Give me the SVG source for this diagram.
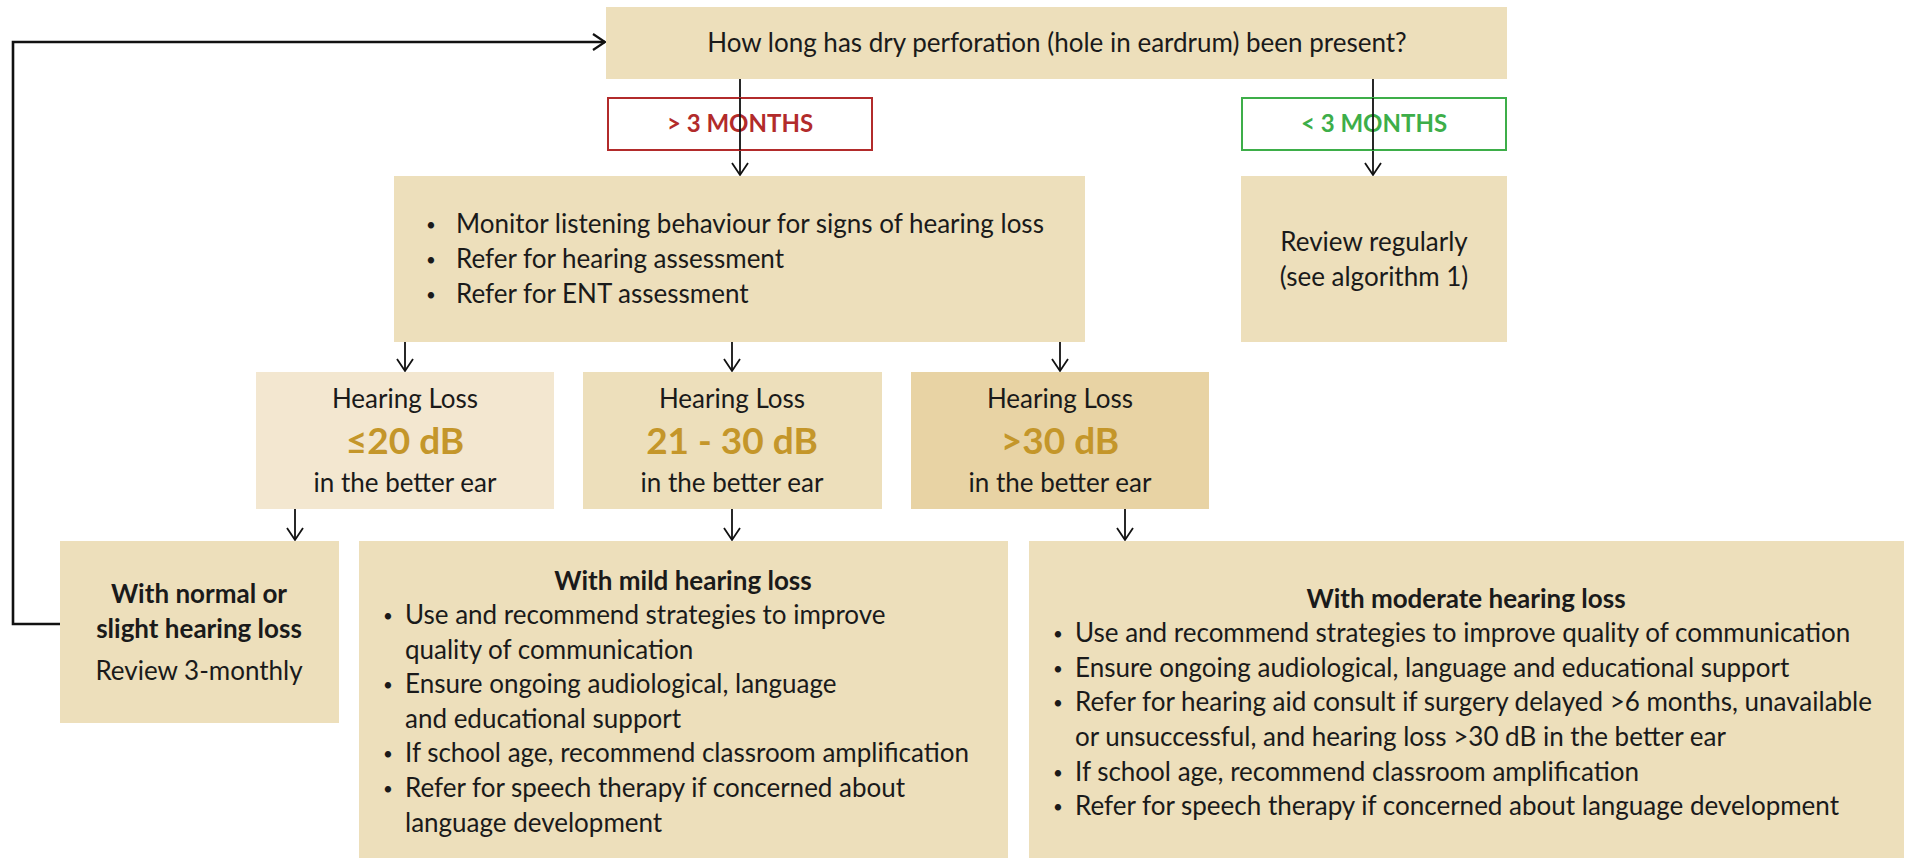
<svg xmlns="http://www.w3.org/2000/svg" width="1910" height="858" viewBox="0 0 1910 858">
  <style>
    text { font-family: Lato, "Liberation Sans", sans-serif; fill: #1a1a1a; font-size: 26px; }
    .c { text-anchor: middle; }
    .b { font-weight: bold; }
    .dot { font-size: 17px; text-anchor: middle; }
    .db { font-weight: bold; font-size: 37px; fill: #C4962A; }
    .lab { font-weight: bold; font-size: 24px; text-anchor: middle; }
    .box { fill: #EDDFBB; }
    .conn { stroke: #111; stroke-width: 1.8; fill: none; marker-end: url(#arr); }
    .loop { stroke: #111; stroke-width: 2.6; fill: none; marker-end: url(#arrL); }
  </style>
  <defs>
    <marker id="arr" markerUnits="userSpaceOnUse" viewBox="-14 -10 16 20" refX="0" refY="0" markerWidth="16" markerHeight="20" orient="auto" overflow="visible">
      <path d="M-12,-8 L0,0 L-12,8" fill="none" stroke="#111" stroke-width="1.8"/>
    </marker>
    <marker id="arrL" markerUnits="userSpaceOnUse" viewBox="-14 -10 16 20" refX="0" refY="0" markerWidth="16" markerHeight="20" orient="auto" overflow="visible">
      <path d="M-12,-8 L0,0 L-12,8" fill="none" stroke="#111" stroke-width="2.2"/>
    </marker>
  </defs>

  <rect width="1910" height="858" fill="#fff"/>

  <!-- connectors -->
  <g id="connectors">
    <path class="conn" d="M740,79 V175"/>
    <path class="conn" d="M1373,79 V175"/>
    <path class="conn" d="M405,342 V371"/>
    <path class="conn" d="M732,342 V371"/>
    <path class="conn" d="M1060,342 V371"/>
    <path class="conn" d="M295,509 V540"/>
    <path class="conn" d="M732,509 V540"/>
    <path class="conn" d="M1125,509 V540"/>
    <path class="loop" d="M60,624 H13 V42 H605"/>
  </g>

  <!-- question -->
  <g id="question">
    <rect class="box" x="606" y="7" width="901" height="72"/>
    <text class="c" x="1057" y="52">How long has dry perforation (hole in eardrum) been present?</text>
  </g>

  <!-- duration labels -->
  <g id="label-over">
    <rect x="608" y="98" width="264" height="52" fill="#fff" stroke="#B22B2B" stroke-width="2"/>
    <text class="lab" x="740" y="132" style="fill:#B22B2B">&gt; 3 MONTHS</text>
  </g>
  <g id="label-under">
    <rect x="1242" y="98" width="264" height="52" fill="#fff" stroke="#3DAE49" stroke-width="2"/>
    <text class="lab" x="1374" y="132" style="fill:#3DAE49">&lt; 3 MONTHS</text>
  </g>
  <!-- connector lines pass through the labels -->
  <path d="M740,98 V150 M1373,98 V150" stroke="#111" stroke-width="1.8"/>

  <!-- actions for long-standing perforation -->
  <g id="monitor">
    <rect class="box" x="394" y="176" width="691" height="166"/>
    <text class="dot" x="431" y="231">•</text><text x="456" y="233">Monitor listening behaviour for signs of hearing loss</text>
    <text class="dot" x="431" y="266">•</text><text x="456" y="268">Refer for hearing assessment</text>
    <text class="dot" x="431" y="301">•</text><text x="456" y="303">Refer for ENT assessment</text>
  </g>

  <g id="review-regularly">
    <rect class="box" x="1241" y="176" width="266" height="166"/>
    <text class="c" x="1374" y="251">Review regularly</text>
    <text class="c" x="1374" y="286">(see algorithm 1)</text>
  </g>

  <!-- hearing loss bands -->
  <g id="hl-20">
    <rect x="256" y="372" width="298" height="137" fill="#F3E7D0"/>
    <text class="c" x="405" y="408">Hearing Loss</text>
    <text class="c db" x="405" y="454">≤20 dB</text>
    <text class="c" x="405" y="492">in the better ear</text>
  </g>
  <g id="hl-21-30">
    <rect class="box" x="583" y="372" width="299" height="137"/>
    <text class="c" x="732" y="408">Hearing Loss</text>
    <text class="c db" x="732" y="454">21 - 30 dB</text>
    <text class="c" x="732" y="492">in the better ear</text>
  </g>
  <g id="hl-30">
    <rect x="911" y="372" width="298" height="137" fill="#E8D3A4"/>
    <text class="c" x="1060" y="408">Hearing Loss</text>
    <text class="c db" x="1060" y="454">&gt;30 dB</text>
    <text class="c" x="1060" y="492">in the better ear</text>
  </g>

  <!-- management -->
  <g id="normal">
    <rect class="box" x="60" y="541" width="279" height="182"/>
    <text class="c b" x="199" y="603">With normal or</text>
    <text class="c b" x="199" y="638">slight hearing loss</text>
    <text class="c" x="199" y="680">Review 3-monthly</text>
  </g>

  <g id="mild">
    <rect class="box" x="359" y="541" width="649" height="317"/>
    <text class="c b" x="683" y="590">With mild hearing loss</text>
    <text class="dot" x="388" y="622">•</text><text x="405" y="624">Use and recommend strategies to improve</text>
    <text x="405" y="659">quality of communication</text>
    <text class="dot" x="388" y="691">•</text><text x="405" y="693">Ensure ongoing audiological, language</text>
    <text x="405" y="728">and educational support</text>
    <text class="dot" x="388" y="760">•</text><text x="405" y="762">If school age, recommend classroom amplification</text>
    <text class="dot" x="388" y="795">•</text><text x="405" y="797">Refer for speech therapy if concerned about</text>
    <text x="405" y="832">language development</text>
  </g>

  <g id="moderate">
    <rect class="box" x="1029" y="541" width="875" height="317"/>
    <text class="c b" x="1466" y="608">With moderate hearing loss</text>
    <text class="dot" x="1058" y="640">•</text><text x="1075" y="642">Use and recommend strategies to improve quality of communication</text>
    <text class="dot" x="1058" y="675">•</text><text x="1075" y="677">Ensure ongoing audiological, language and educational support</text>
    <text class="dot" x="1058" y="709">•</text><text x="1075" y="711">Refer for hearing aid consult if surgery delayed &gt;6 months, unavailable</text>
    <text x="1075" y="746">or unsuccessful, and hearing loss &gt;30 dB in the better ear</text>
    <text class="dot" x="1058" y="779">•</text><text x="1075" y="781">If school age, recommend classroom amplification</text>
    <text class="dot" x="1058" y="813">•</text><text x="1075" y="815">Refer for speech therapy if concerned about language development</text>
  </g>
</svg>
